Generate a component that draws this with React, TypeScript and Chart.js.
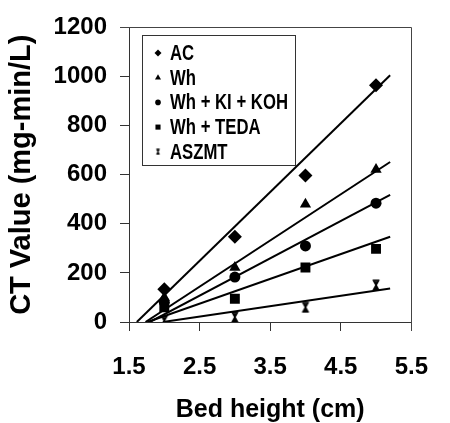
import React, { useEffect, useRef } from "react";
import { Chart, registerables } from "chart.js";
import { drawPoint } from "chart.js/helpers";

Chart.register(...registerables);

// ---- data ----
const bedHeight = [2, 3, 4, 5];
const seriesNames = ["AC", "Wh", "Wh + KI + KOH", "Wh + TEDA", "ASZMT"];
const acValues = [133, 347, 597, 964];
const whValues = [100, 222, 480, 621];
const whKiKohValues = [80, 183, 310, 484];
const whTedaValues = [60, 95, 222, 298];
const aszmtValues = [5, 20, 60, 150];
// linear trend lines (slope, intercept)
const trendSlopes = [280, 188, 152, 101, 42.4];
const trendIntercepts = [-451, -326, -273, -178, -84];
const trendEndX = 5.2;
const xTicks = [1.5, 2.5, 3.5, 4.5, 5.5];
const yTicks = [0, 200, 400, 600, 800, 1000, 1200];

const FONT = "'Liberation Sans', Arial, sans-serif";

function makeAsterisk(size: number, lw: number) {
  const c = document.createElement("canvas");
  c.width = size;
  c.height = size;
  const g = c.getContext("2d")!;
  g.strokeStyle = "#000";
  g.lineWidth = lw;
  const m = size / 2;
  const a = lw / 2 + 0.5;
  const b = size - a;
  const inset = size * 0.18;
  g.beginPath();
  g.moveTo(a + inset, a); g.lineTo(b - inset, b);
  g.moveTo(b - inset, a); g.lineTo(a + inset, b);
  g.moveTo(m, a); g.lineTo(m, b);
  g.moveTo(a + inset * 0.6, a); g.lineTo(b - inset * 0.6, a);
  g.moveTo(a + inset * 0.6, b); g.lineTo(b - inset * 0.6, b);
  g.stroke();
  return c;
}

export default function App() {
  const ref = useRef<HTMLCanvasElement | null>(null);

  useEffect(() => {
    const canvas = ref.current;
    if (!canvas) return;
    const star = makeAsterisk(12, 1.6);
    const starSmall = makeAsterisk(7, 1.1);

    const allValues = [acValues, whValues, whKiKohValues, whTedaValues, aszmtValues];
    const styles: any[] = ["rectRot", "triangle", "circle", "rect", star];
    const radii = [7, 6.5, 5.5, 7, 6];
    const legendStyles: any[] = ["rectRot", "triangle", "circle", "rect", starSmall];
    const legendRadii = [3.5, 3.5, 2.8, 3.6, 3.5];

    const pointSets = allValues.map((vals, i) => ({
      type: "scatter" as const,
      label: seriesNames[i],
      data: bedHeight.map((x, j) => ({ x, y: vals[j] })),
      pointStyle: styles[i],
      pointRadius: radii[i],
      backgroundColor: "#000",
      borderColor: "#000",
      borderWidth: 0,
      order: 0,
    }));

    const lineSets = trendSlopes.map((m, i) => {
      const b = trendIntercepts[i];
      const x0 = -b / m;
      return {
        type: "line" as const,
        label: seriesNames[i] + " trend",
        data: [
          { x: x0, y: 0 },
          { x: trendEndX, y: m * trendEndX + b },
        ],
        borderColor: "#000",
        borderWidth: 2,
        pointRadius: 0,
        showLine: true,
        fill: false,
        order: 1,
      };
    });

    const framePlugin = {
      id: "frame",
      beforeDatasetsDraw(chart: any) {
        const { ctx, chartArea: a } = chart;
        ctx.save();
        ctx.strokeStyle = "#444";
        ctx.lineWidth = 1;
        ctx.beginPath();
        ctx.moveTo(Math.round(a.left) - 9, Math.round(a.top) + 0.5);
        ctx.lineTo(Math.round(a.right) + 0.5, Math.round(a.top) + 0.5);
        ctx.lineTo(Math.round(a.right) + 0.5, Math.round(a.bottom) + 9);
        ctx.stroke();
        ctx.restore();
      },
    };

    const legendPlugin = {
      id: "customLegend",
      afterDraw(chart: any) {
        const ctx = chart.ctx;
        const bx = 142, by = 35, bw = 153, bh = 130;
        ctx.save();
        ctx.fillStyle = "#fff";
        ctx.fillRect(bx, by, bw, bh);
        ctx.strokeStyle = "#333";
        ctx.lineWidth = 1;
        ctx.strokeRect(bx + 0.5, by + 0.5, bw, bh);
        seriesNames.forEach((name, i) => {
          const cy = by + 18 + i * 24.7;
          ctx.fillStyle = "#000";
          ctx.strokeStyle = "#000";
          drawPoint(
            ctx,
            {
              pointStyle: legendStyles[i],
              radius: legendRadii[i],
              rotation: 0,
              borderWidth: 0,
            } as any,
            158,
            cy
          );
          ctx.save();
          ctx.translate(170, cy + 1);
          ctx.scale(0.76, 1);
          ctx.font = `bold 22px ${FONT}`;
          ctx.textBaseline = "middle";
          ctx.fillStyle = "#000";
          ctx.fillText(name, 0, 0);
          ctx.restore();
        });
        ctx.restore();
      },
    };

    const chart = new Chart(canvas, {
      type: "scatter",
      data: { datasets: [...lineSets, ...pointSets] as any },
      options: {
        animation: false,
        responsive: false,
        devicePixelRatio: 1,
        layout: { padding: { top: 25, right: 18, left: 0, bottom: 0 } },
        plugins: { legend: { display: false }, tooltip: { enabled: false } },
        elements: { point: { backgroundColor: "#000", borderColor: "#000" } },
        scales: {
          x: {
            type: "linear",
            min: 1.5,
            max: 5.5,
            afterBuildTicks: (s: any) => {
              s.ticks = xTicks.map((v) => ({ value: v }));
            },
            afterFit: (s: any) => {
              s.height = 101;
            },
            ticks: {
              callback: (v: any) => Number(v).toFixed(1),
              font: { family: FONT, size: 24, weight: "bold" },
              color: "#000",
              padding: 22,
              maxRotation: 0,
              autoSkip: false,
            },
            grid: { drawOnChartArea: false, drawTicks: true, tickLength: 9, color: "#333" },
            border: { display: true, color: "#333" },
            title: {
              display: true,
              text: "Bed height (cm)",
              font: { family: FONT, size: 25, weight: "bold" },
              color: "#000",
              padding: { top: 0, bottom: -2 },
            },
          },
          y: {
            type: "linear",
            min: 0,
            max: 1200,
            afterBuildTicks: (s: any) => {
              s.ticks = yTicks.map((v) => ({ value: v }));
            },
            afterFit: (s: any) => {
              s.width = 129;
            },
            ticks: {
              callback: (v: any) => String(v),
              font: { family: FONT, size: 24, weight: "bold" },
              color: "#000",
              padding: 13,
              autoSkip: false,
            },
            grid: { drawOnChartArea: false, drawTicks: true, tickLength: 9, color: "#333" },
            border: { display: true, color: "#333" },
            title: {
              display: true,
              text: "CT Value (mg-min/L)",
              font: { family: FONT, size: 29, weight: "bold" },
              color: "#000",
              padding: { top: 5, bottom: 0 },
            },
          },
        },
      },
      plugins: [framePlugin, legendPlugin],
    });
    return () => chart.destroy();
  }, []);

  return (
    <div style={{ position: "fixed", left: 0, top: 0, width: 450, height: 423, background: "#fff" }}>
      <canvas ref={ref} width={450} height={423} style={{ display: "block" }} />
    </div>
  );
}
